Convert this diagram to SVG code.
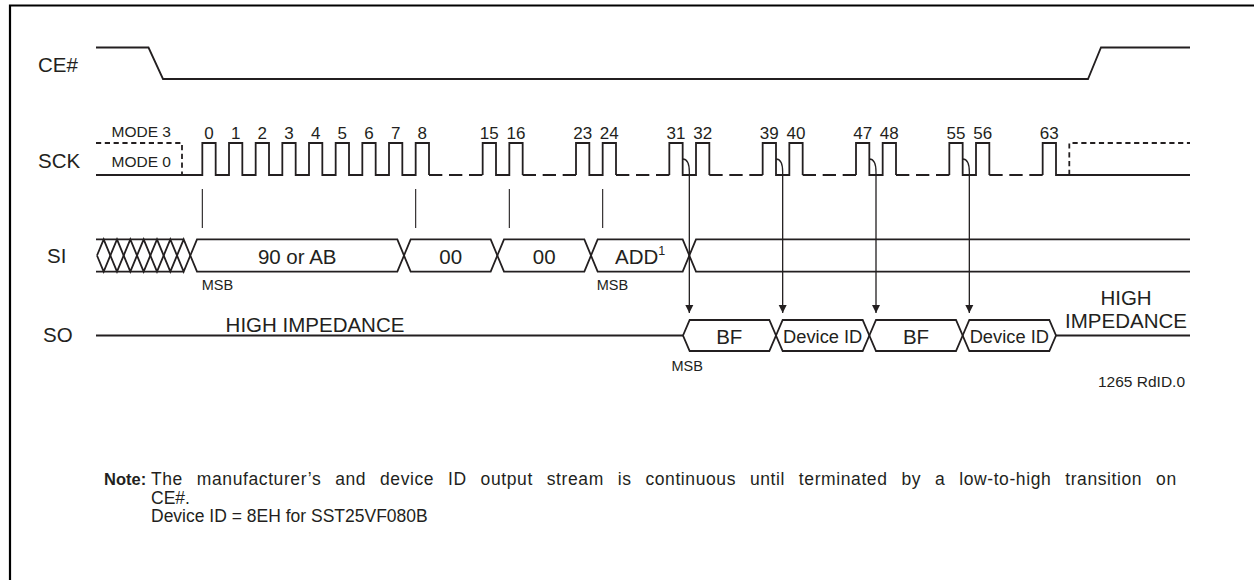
<svg xmlns="http://www.w3.org/2000/svg" width="1254" height="580" viewBox="0 0 1254 580">
<style>
text{font-family:"Liberation Sans",Arial,Helvetica,sans-serif;fill:#231f20}
.sig{fill:none;stroke:#231f20;stroke-width:1.8;stroke-linejoin:miter}
.dash{fill:none;stroke:#231f20;stroke-width:1.8;stroke-dasharray:13.33 6.67}
.mode{fill:none;stroke:#231f20;stroke-width:1.8;stroke-dasharray:5.2 3.6}
.thin{fill:none;stroke:#231f20;stroke-width:1.1}
.conn{fill:none;stroke:#231f20;stroke-width:1.3}
.lbl{font-size:20.5px}
.big{font-size:20.5px;text-anchor:middle}
.dev{font-size:18.3px;text-anchor:middle}
.num{font-size:17px;text-anchor:middle}
.sm{font-size:14.5px}
.mo{font-size:15.5px}
.note{font-size:17.5px}
</style>
<defs>
<marker id="ah" viewBox="0 0 10 10" refX="10" refY="5" markerWidth="8" markerHeight="9" markerUnits="userSpaceOnUse" orient="auto">
<path d="M0,0 L10,5 L0,10 Z" fill="#231f20"/>
</marker>
</defs>
<rect width="1254" height="580" fill="#fff"/>
<path d="M10,580 V5.5 H1254" fill="none" stroke="#000" stroke-width="2.2"/>

<g id="ce">
<text class="lbl" x="38" y="72">CE#</text>
<path class="sig" d="M96,47.5 H148.5 L163,79 H1088 L1101,47.5 H1190"/>
</g>

<g id="sck">
<text class="lbl" x="38" y="168">SCK</text>
<text class="mo" x="111.5" y="137">MODE 3</text>
<text class="mo" x="111.5" y="166.5">MODE 0</text>
<path class="mode" d="M96,143 H182 V175"/>
<path class="sig" d="M96,175 H202.33 V143 H215.67 V175 H229 V143 H242.33 V175 H255.67 V143 H269 V175 H282.33 V143 H295.67 V175 H309 V143 H322.33 V175 H335.67 V143 H349 V175 H362.33 V143 H375.67 V175 H389 V143 H402.33 V175 H415.67 V143 H429 V175"/>
<path class="sig" d="M482.67,175 V143 H496 V175 H509.33 V143 H522.67 V175"/>
<path class="sig" d="M576,175 V143 H589.33 V175 H602.67 V143 H616 V175"/>
<path class="sig" d="M669.33,175 V143 H682.67 V175 H696 V143 H709.33 V175"/>
<path class="sig" d="M762.67,175 V143 H776 V175 H789.33 V143 H802.67 V175"/>
<path class="sig" d="M856,175 V143 H869.33 V175 H882.67 V143 H896 V175"/>
<path class="sig" d="M949.33,175 V143 H962.67 V175 H976 V143 H989.33 V175"/>
<path class="sig" d="M1042.67,175 V143 H1056 V175 H1190"/>
<path class="dash" d="M429,175 H482.67 M522.67,175 H576 M616,175 H669.33 M709.33,175 H762.67 M802.67,175 H856 M896,175 H949.33 M989.33,175 H1042.67"/>
<path class="mode" d="M1069.3,175 V143 H1190"/>
<text class="num" x="209" y="139">0</text>
<text class="num" x="235.7" y="139">1</text>
<text class="num" x="262.3" y="139">2</text>
<text class="num" x="289" y="139">3</text>
<text class="num" x="315.7" y="139">4</text>
<text class="num" x="342.3" y="139">5</text>
<text class="num" x="369" y="139">6</text>
<text class="num" x="395.7" y="139">7</text>
<text class="num" x="422.3" y="139">8</text>
<text class="num" x="489.3" y="139">15</text>
<text class="num" x="516" y="139">16</text>
<text class="num" x="582.7" y="139">23</text>
<text class="num" x="609.3" y="139">24</text>
<text class="num" x="676" y="139">31</text>
<text class="num" x="702.7" y="139">32</text>
<text class="num" x="769.3" y="139">39</text>
<text class="num" x="796" y="139">40</text>
<text class="num" x="862.7" y="139">47</text>
<text class="num" x="889.3" y="139">48</text>
<text class="num" x="956" y="139">55</text>
<text class="num" x="982.7" y="139">56</text>
<text class="num" x="1049.3" y="139">63</text>
</g>

<g id="markers">
<path class="thin" d="M202.33,189 V228 M415.67,189 V228 M509.33,189 V228 M602.67,189 V228"/>
</g>

<g id="si">
<text class="lbl" x="47" y="263">SI</text>
<path class="sig" d="M96,239.3 H183.67 M96,271.7 H183.67"/>
<path class="sig" d="M97,255.5 L103.67,239.3 L117,271.7 L130.33,239.3 L143.67,271.7 L157,239.3 L170.33,271.7 L183.67,239.3 L190.33,255.5"/>
<path class="sig" d="M97,255.5 L103.67,271.7 L117,239.3 L130.33,271.7 L143.67,239.3 L157,271.7 L170.33,239.3 L183.67,271.7 L190.33,255.5"/>
<path class="sig" d="M190.33,255.5 L197,239.3 H397.33 L404,255.5 L397.33,271.7 H197 Z"/>
<path class="sig" d="M404,255.5 L410.67,239.3 H490.67 L497.33,255.5 L490.67,271.7 H410.67 Z"/>
<path class="sig" d="M497.33,255.5 L504,239.3 H584.33 L591,255.5 L584.33,271.7 H504 Z"/>
<path class="sig" d="M591,255.5 L597.67,239.3 H682.67 L689.33,255.5 L682.67,271.7 H597.67 Z"/>
<path class="sig" d="M1190,239.3 H696 L689.33,255.5 L696,271.7 H1190"/>
<text class="big" x="297.2" y="263.5">90 or AB</text>
<text class="big" x="450.7" y="263.5">00</text>
<text class="big" x="544.2" y="263.5">00</text>
<text class="big" x="640.2" y="263.5">ADD<tspan font-size="12.5" dy="-8.5">1</tspan></text>
<text class="sm" x="201.7" y="290">MSB</text>
<text class="sm" x="596.7" y="290">MSB</text>
</g>

<g id="so">
<text class="lbl" x="43" y="342">SO</text>
<path class="sig" d="M96,335.5 H683"/>
<path class="sig" d="M683,335.5 L689.67,320 H769.33 L776,335.5 L769.33,351 H689.67 Z"/>
<path class="sig" d="M776,335.5 L782.67,320 H862.67 L869.33,335.5 L862.67,351 H782.67 Z"/>
<path class="sig" d="M869.33,335.5 L876,320 H956 L962.67,335.5 L956,351 H876 Z"/>
<path class="sig" d="M962.67,335.5 L969.33,320 H1049.33 L1056,335.5 L1049.33,351 H969.33 Z"/>
<path class="sig" d="M1056,335.5 H1190"/>
<text class="big" x="315" y="331.5">HIGH IMPEDANCE</text>
<text class="big" x="729.3" y="343.5">BF</text>
<text class="dev" x="822.7" y="343">Device ID</text>
<text class="big" x="916" y="343.5">BF</text>
<text class="dev" x="1009.3" y="343">Device ID</text>
<text class="big" x="1126" y="305">HIGH</text>
<text class="big" x="1126" y="328">IMPEDANCE</text>
<text class="sm" x="671.5" y="371">MSB</text>
<text x="1185" y="387" style="font-size:15.5px;text-anchor:end">1265 RdID.0</text>
</g>

<g id="connectors">
<path class="conn" marker-end="url(#ah)" d="M682.67,159 C687.5,159 689.33,164 689.33,172 V313"/>
<path class="conn" marker-end="url(#ah)" d="M776,159 C780.8,159 782.67,164 782.67,172 V313"/>
<path class="conn" marker-end="url(#ah)" d="M869.33,159 C874.2,159 876,164 876,172 V313"/>
<path class="conn" marker-end="url(#ah)" d="M962.67,159 C967.5,159 969.33,164 969.33,172 V313"/>
</g>

<g id="note">
<text x="104" y="485" font-weight="bold" style="font-size:16.5px">Note:</text>
<text class="note" x="151" y="485" letter-spacing="0.6" word-spacing="8.4">The manufacturer’s and device ID output stream is continuous until terminated by a low-to-high transition on</text>
<text class="note" x="151" y="503.5">CE#.</text>
<text class="note" x="151" y="522">Device ID = 8EH for SST25VF080B</text>
</g>
</svg>
